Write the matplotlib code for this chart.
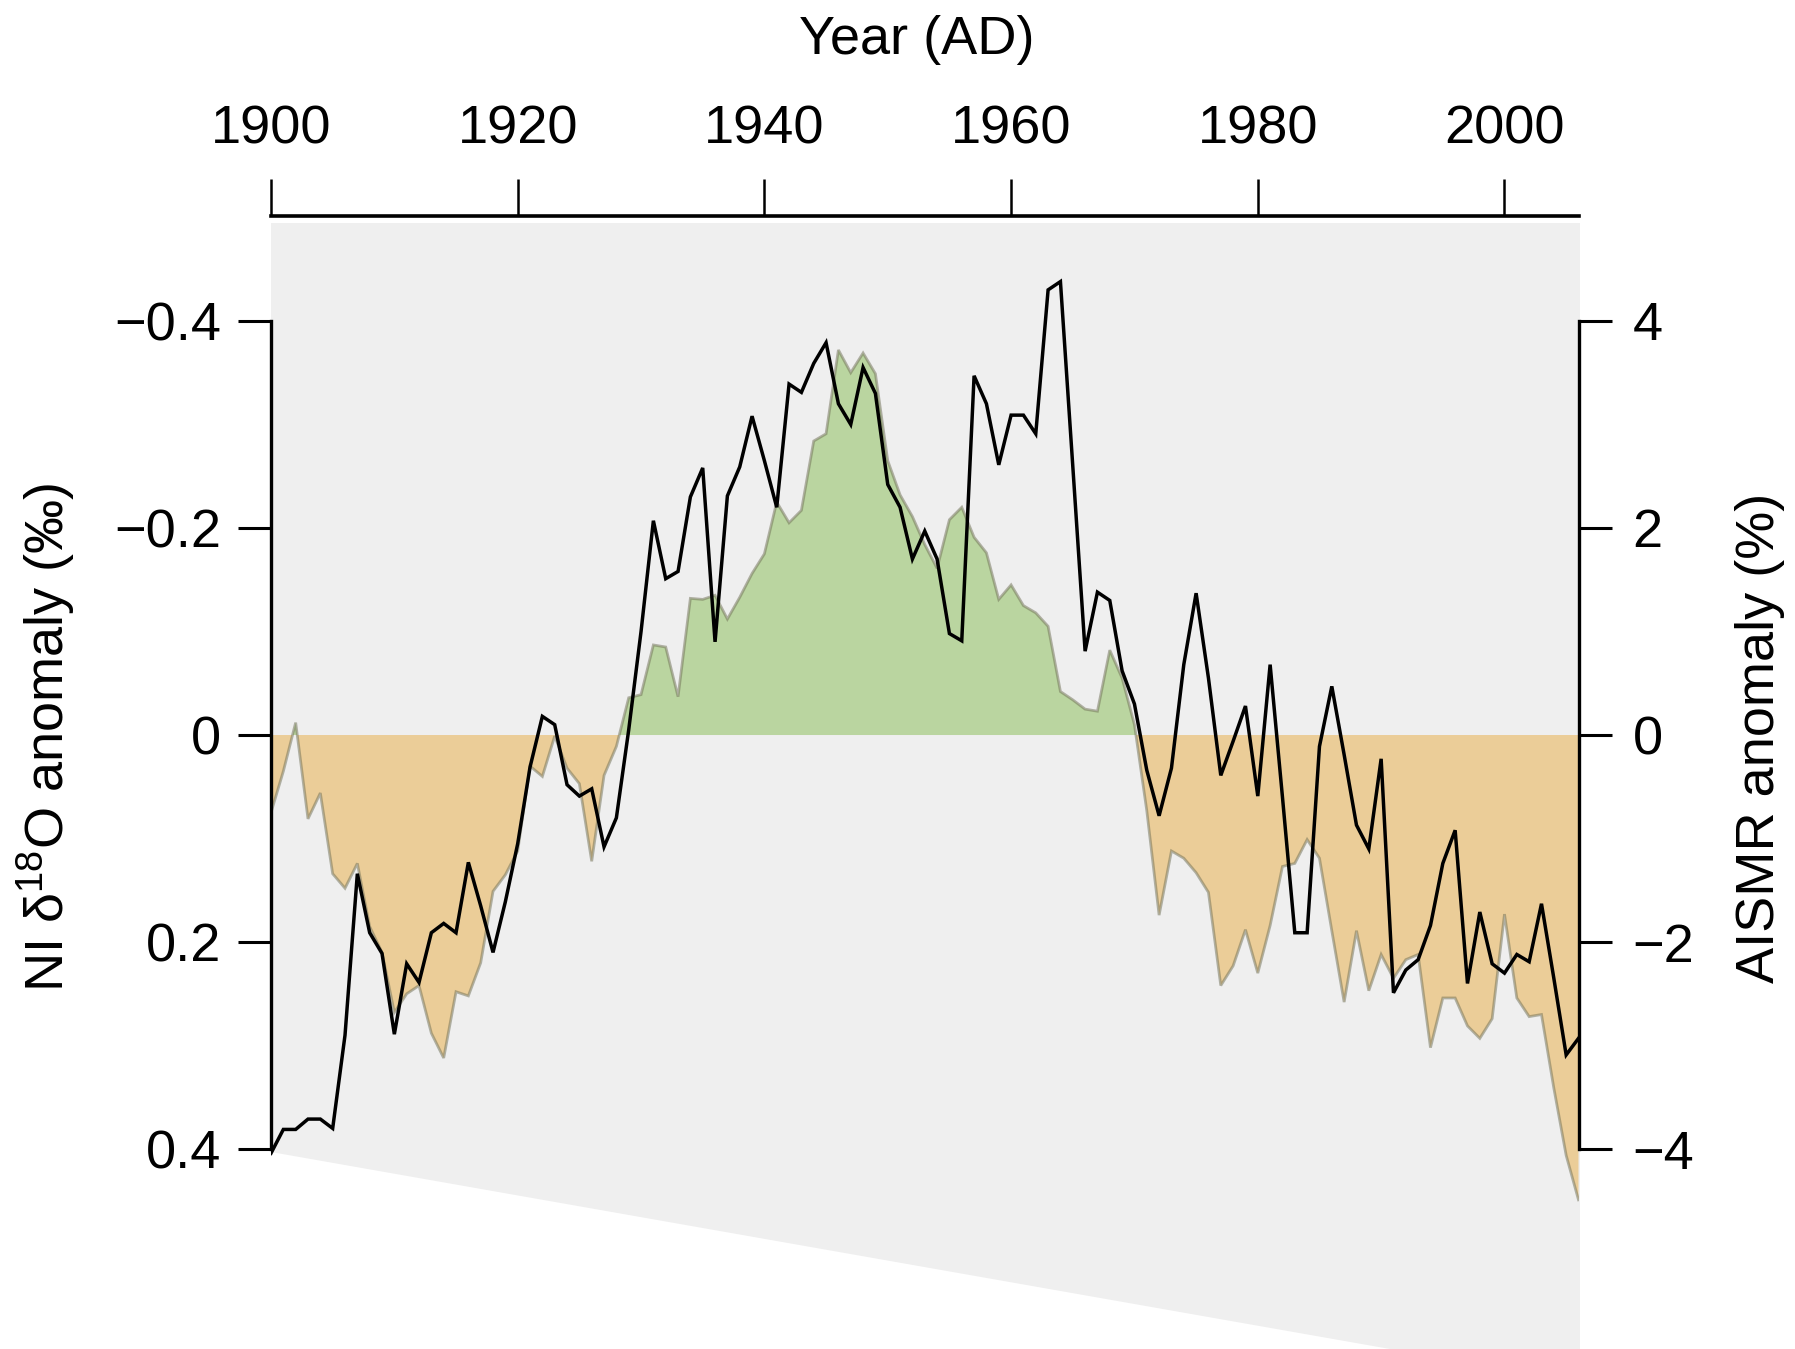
import numpy as np
import matplotlib
matplotlib.use("Agg")
import matplotlib.pyplot as plt
from matplotlib.patches import Polygon

plt.rcParams['font.family'] = ['Liberation Sans', 'DejaVu Sans']
plt.rcParams['mathtext.fontset'] = 'custom'
plt.rcParams['mathtext.rm'] = 'Liberation Sans'
plt.rcParams['mathtext.it'] = 'Liberation Sans'

# ---------------- data ----------------
years = np.arange(1900, 2007)

# NI delta18O anomaly (permil), black line, left (inverted) axis
d18o = [0.404, 0.381, 0.381, 0.371, 0.371, 0.380, 0.290, 0.134, 0.191, 0.211,
        0.289, 0.221, 0.239, 0.191, 0.182, 0.191, 0.123, 0.165, 0.210, 0.161,
        0.105, 0.031, -0.018, -0.010, 0.048, 0.059, 0.052, 0.108, 0.080, -0.005,
        -0.100, -0.207, -0.151, -0.158, -0.230, -0.258, -0.090, -0.231, -0.259, -0.308,
        -0.265, -0.220, -0.339, -0.331, -0.359, -0.379, -0.320, -0.300, -0.355, -0.330,
        -0.242, -0.220, -0.170, -0.197, -0.170, -0.098, -0.091, -0.347, -0.320, -0.261,
        -0.309, -0.309, -0.291, -0.430, -0.438, -0.260, -0.081, -0.138, -0.130, -0.062,
        -0.030, 0.034, 0.078, 0.032, -0.068, -0.137, -0.055, 0.039, 0.006, -0.028,
        0.059, -0.068, 0.060, 0.191, 0.191, 0.011, -0.047, 0.019, 0.087, 0.110,
        0.023, 0.249, 0.227, 0.217, 0.184, 0.124, 0.092, 0.240, 0.171, 0.221,
        0.230, 0.212, 0.219, 0.163, 0.235, 0.309, 0.293]

# AISMR anomaly (%), filled area, right axis
aismr = [-0.75, -0.35, 0.12, -0.81, -0.56, -1.34, -1.48, -1.24, -1.85, -2.10,
         -2.68, -2.50, -2.42, -2.88, -3.12, -2.48, -2.52, -2.20, -1.51, -1.35,
         -1.12, -0.30, -0.40, -0.01, -0.32, -0.47, -1.22, -0.39, -0.11, 0.36,
         0.39, 0.87, 0.85, 0.37, 1.32, 1.31, 1.35, 1.12, 1.33, 1.56,
         1.75, 2.25, 2.05, 2.17, 2.84, 2.91, 3.72, 3.50, 3.69, 3.49,
         2.65, 2.32, 2.11, 1.84, 1.61, 2.08, 2.20, 1.91, 1.76, 1.31,
         1.45, 1.25, 1.18, 1.05, 0.42, 0.34, 0.25, 0.23, 0.82, 0.55,
         0.10, -0.73, -1.74, -1.12, -1.19, -1.33, -1.52, -2.42, -2.23, -1.88,
         -2.30, -1.84, -1.27, -1.24, -1.01, -1.19, -1.89, -2.58, -1.89, -2.47,
         -2.12, -2.35, -2.17, -2.12, -3.02, -2.54, -2.54, -2.81, -2.93, -2.74,
         -1.73, -2.54, -2.72, -2.70, -3.41, -4.06, -4.49]

x_ticks = [1900, 1920, 1940, 1960, 1980, 2000]
x_ticklabels = ['1900', '1920', '1940', '1960', '1980', '2000']
left_ticks = [-0.4, -0.2, 0, 0.2, 0.4]
left_ticklabels = ['\u22120.4', '\u22120.2', '0', '0.2', '0.4']
right_ticks = [4, 2, 0, -2, -4]
right_ticklabels = ['4', '2', '0', '\u22122', '\u22124']

# ---------------- figure ----------------
W, H = 1795, 1349
fig = plt.figure(figsize=(W / 100, H / 100), dpi=100)
fig.patch.set_facecolor('white')

ax_left_px, ax_right_px, ax_top_px = 271, 1578.5, 223
ax = fig.add_axes([ax_left_px / W, 0, (ax_right_px - ax_left_px) / W, 1 - ax_top_px / H])
ax2 = ax.twinx()

# grey background (projection shape)
poly_px = [(271, 223), (1580, 223), (1580, 1349), (1390, 1349), (271, 1152)]
poly = Polygon([(px / W, 1 - py / H) for px, py in poly_px], closed=True,
               transform=fig.transFigure, facecolor='#efefef', edgecolor='none', zorder=-10)
fig.add_artist(poly)

ax.patch.set_visible(False)
ax2.patch.set_visible(False)
ax.set_zorder(2)
ax2.set_zorder(1)

yr = np.asarray(years, dtype=float)
a = np.asarray(aismr)
ax2.fill_between(yr, 0, a, where=a >= 0, interpolate=True,
                 facecolor='#bad5a0', edgecolor='none')
ax2.fill_between(yr, 0, a, where=a <= 0, interpolate=True,
                 facecolor='#ebcd98', edgecolor='none')
ax2.plot(yr, a, color='#6f6f55', alpha=0.5, lw=2.0, solid_joinstyle='miter')

ax.plot(yr, d18o, color='black', lw=2.5, solid_joinstyle='miter')

# axes limits
ax.set_xlim(1900, 2006)
ax.set_ylim(0.5931, -0.4946)
ax2.set_ylim(-5.931, 4.946)

FS = 39
# spines
for s in ['right', 'bottom']:
    ax.spines[s].set_visible(False)
ax.spines['left'].set_bounds(-0.4, 0.4)
ax.spines['left'].set_linewidth(2.4)
ax.spines['top'].set_linewidth(2.6)
ax.spines['top'].set_position(('outward', 5))
for s in ['left', 'top', 'bottom']:
    ax2.spines[s].set_visible(False)
ax2.spines['right'].set_bounds(-4, 4)
ax2.spines['right'].set_linewidth(2.4)

# x axis on top
ax.xaxis.tick_top()
ax.set_xticks(x_ticks)
ax.set_xticklabels(x_ticklabels)
ax.tick_params(axis='x', direction='out', length=27, width=1.8, pad=17, labelsize=FS)
ax.xaxis.set_label_position('top')
ax.set_xlabel('Year (AD)', fontsize=FS)
ax.xaxis.label.set_va('center')
ax.xaxis.set_label_coords(0.494, (H - 40) / (H - ax_top_px))

# left y
ax.set_yticks(left_ticks)
ax.set_yticklabels(left_ticklabels)
ax.tick_params(axis='y', direction='out', length=24, width=2.2, pad=12, labelsize=FS)
ax.set_ylabel('NI \u03b4$^{18}$O anomaly (\u2030)', fontsize=FS)
ax.yaxis.label.set_va('center')
ax.yaxis.set_label_coords(-0.1722, 0.5426)

# right y
ax2.set_yticks(right_ticks)
ax2.set_yticklabels(right_ticklabels)
ax2.tick_params(axis='y', direction='out', length=24, width=2.2, pad=15, labelsize=FS)
ax2.set_ylabel('AISMR anomaly (%)', fontsize=FS, rotation=90)
ax2.yaxis.label.set_va('center')
ax2.yaxis.set_label_coords(1.139, 0.5426)

fig.savefig('out.png', dpi=100)
